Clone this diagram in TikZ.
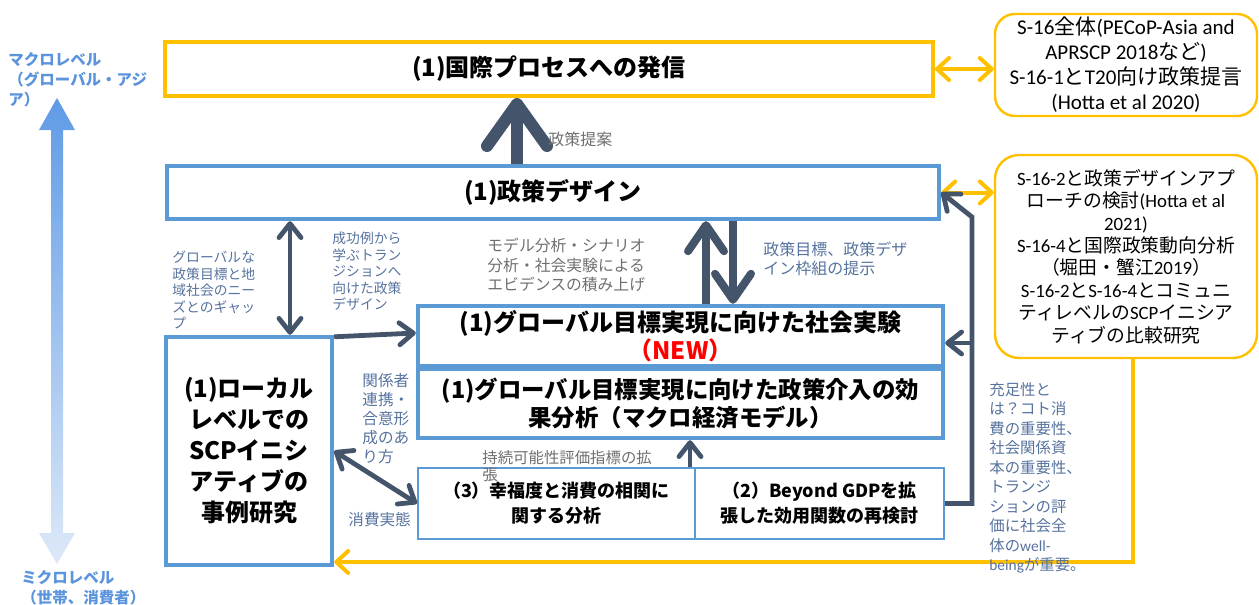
\documentclass[tikz,border=0pt]{standalone}
\usepackage{fontspec}
\setmainfont{Noto Sans CJK JP}
\newfontfamily\lat{Carlito}
\usetikzlibrary{arrows.meta}
\definecolor{bluebox}{HTML}{5B9BD5}
\definecolor{darkarr}{HTML}{44546A}
\definecolor{gold}{HTML}{FFC000}
\definecolor{lblcol}{HTML}{56729E}
\definecolor{graylbl}{HTML}{6F6F6F}
\definecolor{levelcol}{HTML}{5B94DC}
\definecolor{newred}{HTML}{FF0000}
\definecolor{shadetop}{HTML}{5F9BE6}
\definecolor{shadebot}{HTML}{DDE9F8}
\newcommand\la[1]{{\lat #1}}
\begin{document}
\begin{tikzpicture}[x=0.5pt,y=-0.5pt,
  ybox/.style={draw=gold,line width=2pt,fill=white,inner sep=0pt},
  bbox/.style={draw=bluebox,line width=2.2pt,fill=white,inner sep=0pt,align=center},
  tbox/.style={draw=bluebox,line width=1pt,fill=white,inner sep=0pt,align=center,font=\fontsize{9}{12.5}\selectfont\bfseries},
  rbox/.style={draw=gold,line width=1.2pt,fill=white,rounded corners=10pt,inner sep=0pt,align=center},
  title/.style={font=\fontsize{12}{15}\selectfont\bfseries},
  lbl/.style={anchor=north west,inner sep=0pt,align=left,text=lblcol},
  bigarr/.style={draw=darkarr,line width=6pt,-{Straight Barb[round,length=21pt,width=30pt]}},
  midarr/.style={draw=darkarr,line width=4pt,-{Straight Barb[round,length=13pt,width=18pt]}},
  medarr/.style={draw=darkarr,line width=2.4pt,-{Straight Barb[round,length=7pt,width=11pt]}},
  medarrb/.style={draw=darkarr,line width=2.4pt,{Straight Barb[round,length=7pt,width=11pt]}-{Straight Barb[round,length=7pt,width=11pt]}},
  yarr/.style={draw=gold,line width=2pt,{Straight Barb[round,length=6pt,width=11pt]}-{Straight Barb[round,length=6pt,width=11pt]}},
  yarr1/.style={draw=gold,line width=2pt,-{Straight Barb[round,length=6pt,width=11pt]}}
]
\useasboundingbox (0,0) rectangle (1259,605);

% level gradient arrow
\shade[top color=shadetop,bottom color=shadebot]
  (57,98) -- (75,130) -- (63,130) -- (63,533) -- (75,533) -- (57,564)
  -- (39,533) -- (51,533) -- (51,130) -- (39,130) -- cycle;
\node[lbl,text=levelcol,font=\fontsize{7.75}{10}\selectfont\bfseries] (macro) at (8,52)
  {マクロレベル\\（グローバル・アジ\\ア）};
\node[lbl,text=levelcol,font=\fontsize{7.75}{10}\selectfont\bfseries] (micro) at (21,570)
  {ミクロレベル\\（世帯、消費者）};

% boxes
\node[ybox,minimum width=384pt,minimum height=27pt,title] (top) at (549,69) {(1)国際プロセスへの発信};
\node[bbox,minimum width=386pt,minimum height=26.5pt,title] (pd) at (553,192.5) {(1)政策デザイン};
\node[bbox,minimum width=83pt,minimum height=114pt,font=\fontsize{12}{15.5}\selectfont\bfseries] (local) at (249,451)
  {(1)ローカル\\レベルでの\\SCPイニシ\\アティブの\\事例研究};
\node[bbox,minimum width=262.5pt,minimum height=30pt,font=\fontsize{12}{14}\selectfont\bfseries] (se) at (680.5,336)
  {(1)グローバル目標実現に向けた社会実験\\{\color{newred}（NEW）}};
\node[bbox,minimum width=262.5pt,minimum height=34.5pt,font=\fontsize{11.7}{14}\selectfont\bfseries] (pe) at (680.5,403.5)
  {(1)グローバル目標実現に向けた政策介入の効\\果分析（マクロ経済モデル）};
\node[tbox,minimum width=138.5pt,minimum height=35.5pt] (b3) at (556.5,503.5)
  {（3）幸福度と消費の相関に\\関する分析};
\node[tbox,minimum width=124.5pt,minimum height=35.5pt] (b2) at (819.5,503.5)
  {（2）Beyond GDPを拡\\張した効用関数の再検討};
\node[rbox,minimum width=131pt,minimum height=51pt,font=\fontsize{10.5}{12.5}\selectfont] (rb1) at (1126,65)
  {\la{S-16}全体\la{(PECoP-Asia and}\\\la{APRSCP 2018}など\la{)}\\\la{S-16-1}と\la{T20}向け政策提言\\\la{(Hotta et al 2020)}};
\node[rbox,rounded corners=12pt,minimum width=131pt,minimum height=101.5pt,font=\fontsize{9.4}{11.2}\selectfont] (rb2) at (1126,256.5)
  {\la{S-16-2}と政策デザインアプ\\ローチの検討\la{(Hotta et al}\\\la{2021)}\\\la{S-16-4}と国際政策動向分析\\（堀田・蟹江\la{2019}）\\\la{S-16-2}と\la{S-16-4}とコミュニ\\ティレベルの\la{SCP}イニシア\\ティブの比較研究};

% coordinates
\coordinate (c1) at (290,0);
\coordinate (cu) at (706,0);
\coordinate (cd) at (733,0);
\coordinate (c3) at (690,0);
\coordinate (c4) at (972,217);
\coordinate (c5) at (1133,562);
\coordinate (sep) at ([yshift=-3.5pt]se.east);

% connectors
\draw[bigarr] ([xshift=-18pt]pd.north) -- ([xshift=-16pt]top.south);
\draw[yarr] (top.east) -- (top.east -| rb1.west);
\draw[yarr] (pd.east) -- (pd.east -| rb2.west);
\draw[medarrb] (c1 |- pd.south) -- (c1 |- local.north);
\draw[medarr] ([yshift=-1pt]local.north east) -- ([yshift=1.5pt]se.west);
\draw[midarr] (cu |- se.north) -- (cu |- pd.south);
\draw[midarr] (cd |- pd.south) -- (cd |- se.north);
\draw[medarrb] (local.east) -- (b3.west);
\draw[medarr] (c3 |- b3.north) -- (c3 |- pe.south);
\draw[medarr] (b2.east) -| (c4) -- (pd.east);
\draw[medarr] (c4 |- sep) -- (sep);
\draw[yarr1] ([xshift=3.5pt]rb2.south) |- (local.east |- c5);

% labels
\node[lbl,text=graylbl,font=\fontsize{8}{10}\selectfont] (lp) at (548,132) {政策提案};
\node[lbl,font=\fontsize{6.9}{8.25}\selectfont] (lgap) at (172,251)
  {グローバルな\\政策目標と地\\域社会のニー\\ズとのギャッ\\プ};
\node[lbl,font=\fontsize{6.9}{8.25}\selectfont] (lsuc) at (332,232)
  {成功例から\\学ぶトラン\\ジションへ\\向けた政策\\デザイン};
\node[lbl,text=graylbl,font=\fontsize{7.9}{9.7}\selectfont] (lmod) at (487,238)
  {モデル分析・シナリオ\\分析・社会実験による\\エビデンスの積み上げ};
\node[lbl,font=\fontsize{8}{9.5}\selectfont] (lgoal) at (763,241)
  {政策目標、政策デザ\\イン枠組の提示};
\node[lbl,font=\fontsize{7.8}{9.5}\selectfont] (lstake) at (362,373)
  {関係者\\連携・\\合意形\\成のあ\\り方};
\node[lbl,font=\fontsize{7.8}{9.5}\selectfont] (lcons) at (348,512) {消費実態};
\node[lbl,text=graylbl,font=\fontsize{7.7}{8.5}\selectfont] (lsus) at (482,450)
  {持続可能性評価指標の拡\\張};
\node[lbl,font=\fontsize{7.7}{9.75}\selectfont] (lsuf) at (989,382)
  {充足性と\\は？コト消\\費の重要性、\\社会関係資\\本の重要性、\\トランジ\\ションの評\\価に社会全\\体の\la{well-}\\\la{being}が重要。};
\end{tikzpicture}
\end{document}
